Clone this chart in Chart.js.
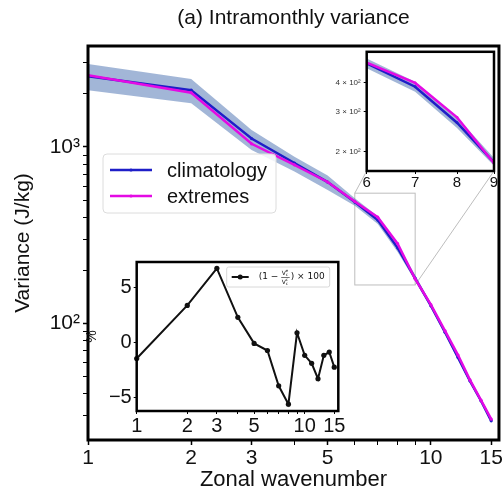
<!DOCTYPE html>
<html>
<head>
<meta charset="utf-8">
<script src="https://cdn.jsdelivr.net/npm/chart.js@4.4.0/dist/chart.umd.min.js"></script>
<style>
body { margin: 0; background: #fff; }
#wrap { position: relative; width: 504px; height: 493px; }
canvas { position: absolute; }
</style>
</head>
<body>
<div id="wrap">
  <canvas id="main" width="504" height="493" style="left:0;top:0"></canvas>
  <canvas id="pct" width="272" height="192" style="left:84px;top:248px"></canvas>
  <canvas id="zoom" width="184" height="152" style="left:316px;top:44px"></canvas>
</div>
<script>
// valores
const wavenumbers = [1, 2, 3, 4, 5, 6, 7, 8, 9, 10, 11, 12, 13, 14, 15];
const climatology = [2520, 2100, 1116, 811, 632, 487, 385, 268, 180, 126, 89, 64, 47.2, 36.4, 28.0];
const extremes    = [2555, 2030, 1042, 792, 633, 491, 400, 283, 178.5, 127.5, 90.7, 66.1, 47.8, 36.7, 28.6];
const climUpper   = [2950, 2430, 1250, 880, 690, 512, 405, 283, 188, 130, 92, 66, 48.5, 37.2, 28.6];
const climLower   = [2100, 1770, 960, 725, 570, 464, 366, 254, 174, 122, 86, 62, 46, 35.6, 27.4];
const diffPct     = [-1.47, 3.38, 6.77, 2.29, -0.09, -0.74, -3.97, -5.65, 0.88, -1.18, -1.91, -3.32, -1.18, -0.88, -2.26];

const xTicksMain  = [1, 2, 3, 5, 10, 15];
const xTicksAll   = [1, 2, 3, 4, 5, 6, 7, 8, 9, 10, 15];
const yTicksMain  = [30, 40, 50, 60, 70, 80, 90, 100, 200, 300, 400, 500, 600, 700, 800, 900, 1000, 2000, 3000];
const pctTicks    = [-5, 0, 5];
const zoomXTicks  = [6, 7, 8, 9];
const zoomYTicks  = [200, 300, 400];
const zoomX = [6, 9];
const zoomY = [165, 547];

const BLUE = '#1e1ec8';
const MAGENTA = '#e40ae4';
const BAND = 'rgba(70,110,175,0.5)';
const FONT = '"Liberation Sans", Arial, sans-serif';
Chart.defaults.font.family = FONT;
Chart.defaults.color = '#111';

// area do inset de zoom na pagina (canvas em 316,44)
const ZOOM_BOX = { left: 316 + 50.7, right: 316 + 178, top: 44 + 7.7, bottom: 44 + 127 };

function pts(ys) {
    return wavenumbers.map(function (k, i) { return { x: k, y: ys[i] }; });
}

function seriesSets(lw, r) {
    return [
        { label: 'extremes', data: pts(extremes), borderColor: MAGENTA, backgroundColor: MAGENTA,
          borderWidth: lw, pointRadius: r, pointBorderWidth: 0, order: 0 },
        { label: 'climatology', data: pts(climatology), borderColor: BLUE, backgroundColor: BLUE,
          borderWidth: lw, pointRadius: r, pointBorderWidth: 0, order: 1 },
        { label: 'upper', data: pts(climUpper), borderColor: 'rgba(0,0,0,0)', backgroundColor: BAND,
          borderWidth: 0, pointRadius: 0, fill: '+1', order: 2 },
        { label: 'lower', data: pts(climLower), borderColor: 'rgba(0,0,0,0)', backgroundColor: BAND,
          borderWidth: 0, pointRadius: 0, fill: false, order: 3 }
    ];
}

function setTicks(list) {
    return function (s) { s.ticks = list.map(function (v) { return { value: v }; }); };
}

const base = {
    responsive: false,
    animation: false,
    events: [],
    plugins: { legend: { display: false }, tooltip: { enabled: false } }
};

// ---------- grafico principal ----------
const mainDecor = {
    id: 'mainDecor',
    beforeDatasetsDraw(chart) {
        const ctx = chart.ctx, x = chart.scales.x, y = chart.scales.y;
        const x0 = x.getPixelForValue(zoomX[0]), x1 = x.getPixelForValue(zoomX[1]);
        const y0 = y.getPixelForValue(zoomY[1]), y1 = y.getPixelForValue(zoomY[0]);
        ctx.save();
        ctx.strokeStyle = '#bdbdbd';
        ctx.lineWidth = 1;
        ctx.strokeRect(x0, y0, x1 - x0, y1 - y0);
        ctx.beginPath();
        ctx.moveTo(x0, y0); ctx.lineTo(ZOOM_BOX.left, ZOOM_BOX.bottom);
        ctx.moveTo(x1, y1); ctx.lineTo(ZOOM_BOX.right, ZOOM_BOX.bottom);
        ctx.stroke();
        ctx.restore();
    },
    afterDraw(chart) {
        const ctx = chart.ctx, a = chart.chartArea;
        ctx.save();
        ctx.lineWidth = 3;
        ctx.strokeStyle = '#000';
        ctx.strokeRect(a.left, a.top, a.right - a.left, a.bottom - a.top);

        ctx.fillStyle = '#111';
        ctx.font = '21px ' + FONT;
        ctx.textAlign = 'center';
        ctx.textBaseline = 'middle';
        ctx.fillText('(a) Intramonthly variance', (a.left + a.right) / 2, 18);

        // legenda
        ctx.beginPath();
        ctx.roundRect(103, 154, 173, 59, 4);
        ctx.fillStyle = 'rgba(255,255,255,0.85)';
        ctx.fill();
        ctx.strokeStyle = '#dcdcdc';
        ctx.lineWidth = 1;
        ctx.stroke();
        const itens = [['climatology', BLUE, 170], ['extremes', MAGENTA, 196]];
        itens.forEach(function (it) {
            ctx.strokeStyle = it[1];
            ctx.lineWidth = 2.5;
            ctx.beginPath(); ctx.moveTo(110, it[2]); ctx.lineTo(152, it[2]); ctx.stroke();
            ctx.fillStyle = it[1];
            ctx.beginPath(); ctx.arc(131, it[2], 1.6, 0, Math.PI * 2); ctx.fill();
            ctx.fillStyle = '#111';
            ctx.font = '20px ' + FONT;
            ctx.textAlign = 'left';
            ctx.fillText(it[0], 167, it[2] + 1);
        });
        ctx.restore();
    }
};

new Chart(document.getElementById('main'), {
    type: 'line',
    data: { datasets: seriesSets(2.5, 1.6) },
    options: Object.assign({}, base, {
        layout: { padding: { top: 46, right: 5, left: 0, bottom: 0 } },
        scales: {
            x: {
                type: 'logarithmic', min: 1, max: 15.8,
                afterBuildTicks: setTicks(xTicksAll),
                afterFit: function (s) { s.height = 53; },
                ticks: { autoSkip: false, maxRotation: 0, font: { size: 21 }, color: '#111', padding: 1,
                         callback: function (v) { return xTicksMain.includes(v) ? String(v) : ''; } },
                grid: { drawOnChartArea: false, tickLength: 5, color: '#000',
                        tickWidth: function (c) { return xTicksMain.includes(c.tick.value) ? 1.5 : 1; } },
                border: { display: false },
                title: { display: true, text: 'Zonal wavenumber', font: { size: 22 }, color: '#111', padding: 0 }
            },
            y: {
                type: 'logarithmic', min: 21.8, max: 3737,
                afterBuildTicks: setTicks(yTicksMain),
                afterFit: function (s) { s.width = 88; },
                ticks: { autoSkip: false, font: { size: 21 }, color: '#111', padding: 3,
                         callback: function (v) { return v === 100 ? '10²' : (v === 1000 ? '10³' : ''); } },
                grid: { drawOnChartArea: false, tickLength: 5, color: '#000',
                        tickWidth: function (c) { return (c.tick.value === 100 || c.tick.value === 1000) ? 1.5 : 1; } },
                border: { display: false },
                title: { display: true, text: 'Variance (J/kg)', font: { size: 21 }, color: '#111', padding: { top: 11 } }
            }
        }
    }),
    plugins: [mainDecor]
});

// ---------- inset da diferenca percentual ----------
const pctDecor = {
    id: 'pctDecor',
    beforeDraw(chart) {
        const ctx = chart.ctx, a = chart.chartArea;
        ctx.save();
        ctx.fillStyle = '#fff';
        ctx.fillRect(a.left, a.top, a.right - a.left, a.bottom - a.top);
        ctx.restore();
    },
    afterDraw(chart) {
        const ctx = chart.ctx, a = chart.chartArea;
        ctx.save();
        ctx.lineWidth = 2.5;
        ctx.strokeStyle = '#000';
        ctx.strokeRect(a.left, a.top, a.right - a.left, a.bottom - a.top);

        // legenda
        const lx = a.left + 90, ly = a.top + 5;
        ctx.beginPath();
        ctx.roundRect(lx, ly, 103, 20, 2);
        ctx.fillStyle = 'rgba(255,255,255,0.9)';
        ctx.fill();
        ctx.strokeStyle = '#d8d8d8';
        ctx.lineWidth = 1;
        ctx.stroke();
        const cy = ly + 10;
        ctx.strokeStyle = '#111';
        ctx.lineWidth = 2;
        ctx.beginPath(); ctx.moveTo(lx + 5, cy); ctx.lineTo(lx + 22, cy); ctx.stroke();
        ctx.fillStyle = '#111';
        ctx.beginPath(); ctx.arc(lx + 13.5, cy, 2.5, 0, Math.PI * 2); ctx.fill();
        ctx.font = '9px "DejaVu Sans"';
        ctx.textAlign = 'left';
        ctx.textBaseline = 'middle';
        ctx.fillText('(1 −', lx + 32, cy);
        const fx = lx + 55;
        ctx.font = '6px "DejaVu Sans"';
        ctx.fillText('V', fx, cy - 4);
        ctx.fillText('V', fx, cy + 5);
        ctx.font = '4px "DejaVu Sans"';
        ctx.fillText('e', fx + 4, cy - 6);
        ctx.fillText('c', fx + 4, cy - 2.5);
        ctx.fillText('c', fx + 4, cy + 3);
        ctx.fillText('c', fx + 4, cy + 6.5);
        ctx.lineWidth = 0.6;
        ctx.beginPath(); ctx.moveTo(fx - 0.5, cy + 0.5); ctx.lineTo(fx + 8, cy + 0.5); ctx.stroke();
        ctx.font = '9px "DejaVu Sans"';
        ctx.fillText(') × 100', fx + 9, cy);
        ctx.restore();
    }
};

new Chart(document.getElementById('pct'), {
    type: 'line',
    data: {
        datasets: [{
            label: 'pct', data: pts(diffPct), borderColor: '#111', backgroundColor: '#111',
            borderWidth: 2, pointRadius: 2.6, pointBorderWidth: 0, clip: 3
        }]
    },
    options: Object.assign({}, base, {
        layout: { padding: { top: 8.7, right: 272 - 254.3, left: 0, bottom: 0 } },
        scales: {
            x: {
                type: 'logarithmic', min: 1, max: 15.85,
                afterBuildTicks: setTicks(xTicksAll),
                afterFit: function (s) { s.height = 192 - 163; },
                ticks: { autoSkip: false, maxRotation: 0, font: { size: 20 }, color: '#111', padding: 0,
                         callback: function (v) { return xTicksMain.includes(v) ? String(v) : ''; } },
                grid: { drawOnChartArea: false, tickLength: 3, color: '#000' },
                border: { display: false }
            },
            y: {
                type: 'linear', min: -6.27, max: 7.35,
                afterBuildTicks: setTicks(pctTicks),
                afterFit: function (s) { s.width = 52.7; },
                ticks: { font: { size: 20 }, color: '#111', padding: 2,
                         callback: function (v) { return v < 0 ? '−' + Math.abs(v) : String(v); } },
                grid: { drawOnChartArea: false, tickLength: 3, color: '#000' },
                border: { display: false },
                title: { display: true, text: '%', font: { size: 14 }, color: '#111', padding: { top: 0 } }
            }
        }
    }),
    plugins: [pctDecor]
});

// ---------- inset de zoom (6 a 9) ----------
const zoomDecor = {
    id: 'zoomDecor',
    beforeDraw(chart) {
        const ctx = chart.ctx, a = chart.chartArea;
        ctx.save();
        ctx.fillStyle = '#fff';
        ctx.fillRect(a.left, a.top, a.right - a.left, a.bottom - a.top);
        ctx.restore();
    },
    afterDraw(chart) {
        const ctx = chart.ctx, a = chart.chartArea;
        ctx.save();
        ctx.lineWidth = 2.5;
        ctx.strokeStyle = '#000';
        ctx.strokeRect(a.left, a.top, a.right - a.left, a.bottom - a.top);
        ctx.restore();
    }
};

new Chart(document.getElementById('zoom'), {
    type: 'line',
    data: { datasets: seriesSets(2.5, 1.4) },
    options: Object.assign({}, base, {
        layout: { padding: { top: 7.7, right: 6, left: 0, bottom: 0 } },
        scales: {
            x: {
                type: 'logarithmic', min: zoomX[0], max: zoomX[1],
                afterBuildTicks: setTicks(zoomXTicks),
                afterFit: function (s) { s.height = 25; },
                ticks: { autoSkip: false, maxRotation: 0, font: { size: 15 }, color: '#111', padding: 0,
                         callback: function (v) { return String(v); } },
                grid: { drawOnChartArea: false, tickLength: 3, color: '#000' },
                border: { display: false }
            },
            y: {
                type: 'logarithmic', min: zoomY[0], max: zoomY[1],
                afterBuildTicks: setTicks(zoomYTicks),
                afterFit: function (s) { s.width = 50.7; },
                ticks: { autoSkip: false, font: { size: 8 }, color: '#333', padding: 3,
                         callback: function (v) { return (v / 100) + ' × 10²'; } },
                grid: { drawOnChartArea: false, tickLength: 3, color: '#000' },
                border: { display: false }
            }
        }
    }),
    plugins: [zoomDecor]
});
</script>
</body>
</html>
